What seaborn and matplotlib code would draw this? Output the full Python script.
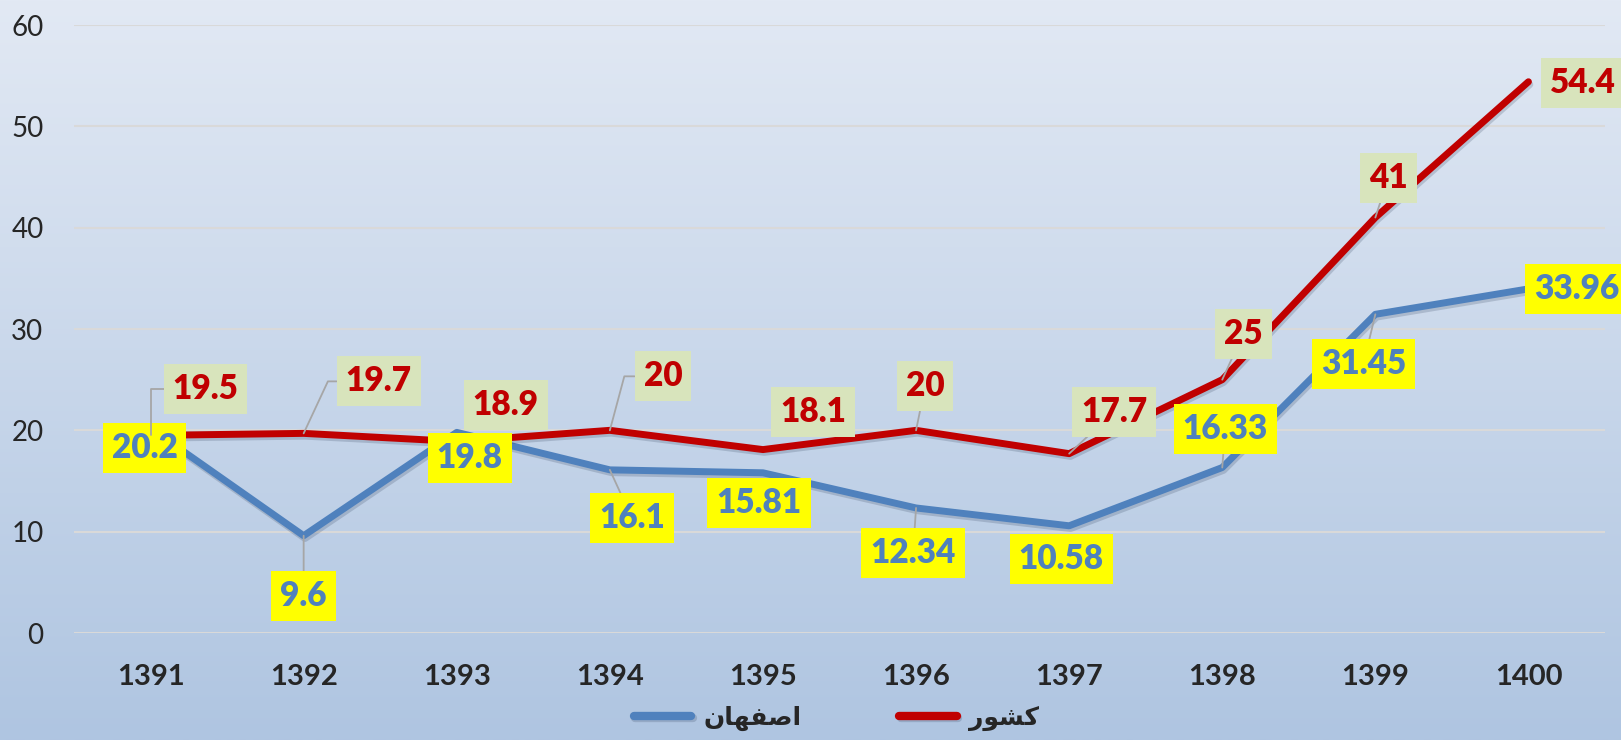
import numpy as np
import pandas as pd
import seaborn as sns
from matplotlib import pyplot as plt
from matplotlib import patheffects as pe

years = [1391, 1392, 1393, 1394, 1395, 1396, 1397, 1398, 1399, 1400]
isfahan = [20.2, 9.6, 19.8, 16.1, 15.81, 12.34, 10.58, 16.33, 31.45, 33.96]
country = [19.5, 19.7, 18.9, 20, 18.1, 20, 17.7, 25, 41, 54.4]
isfahan_name = "اصفهان"
country_name = "کشور"
y_ticks = [0, 10, 20, 30, 40, 50, 60]

# label placement: (dx, dy) in pixels from the point, plus leader style (None = no leader)
STRAIGHT = "arc3"
isfahan_layout = [(-6, -20, None), (0, -60, STRAIGHT), (13, -26, None), (22, -48, STRAIGHT),
                  (-4, -30, None), (-3, -45, STRAIGHT), (-8, -33, None), (3, 39, STRAIGHT),
                  (-12, -50, STRAIGHT), (48, 0, None)]
country_layout = [(55, 46, "angle,angleA=0,angleB=90,rad=0"), (75, 52, "angle,angleA=0,angleB=65,rad=0"),
                  (49, 36, None), (53, 54, "angle,angleA=0,angleB=75,rad=0"), (50, 38, None),
                  (9, 44, STRAIGHT), (45, 42, STRAIGHT), (21, 46, STRAIGHT), (13, 40, STRAIGHT),
                  (54, -1, None)]

BLUE = "#4F81BD"
RED = "#C00000"


def shape_arabic(text):
    # matplotlib has no Arabic shaping: pick contextual forms and reverse for LTR drawing
    forms = {  # isolated, final, initial, medial
        "ا": ("\uFE8D", "\uFE8E", None, None),
        "ر": ("\uFEAD", "\uFEAE", None, None),
        "و": ("\uFEED", "\uFEEE", None, None),
        "ص": ("\uFEB9", "\uFEBA", "\uFEBB", "\uFEBC"),
        "ف": ("\uFED1", "\uFED2", "\uFED3", "\uFED4"),
        "ه": ("\uFEE9", "\uFEEA", "\uFEEB", "\uFEEC"),
        "ن": ("\uFEE5", "\uFEE6", "\uFEE7", "\uFEE8"),
        "ش": ("\uFEB5", "\uFEB6", "\uFEB7", "\uFEB8"),
        "ک": ("\uFB8E", "\uFB8F", "\uFB90", "\uFB91"),
    }
    out = []
    for i, ch in enumerate(text):
        iso, fin, ini, med = forms[ch]
        prev_joins = i > 0 and forms[text[i - 1]][2] is not None
        next_joins = i < len(text) - 1 and ini is not None
        if prev_joins and next_joins:
            out.append(med)
        elif prev_joins:
            out.append(fin)
        elif next_joins:
            out.append(ini)
        else:
            out.append(iso)
    return "".join(reversed(out))


sns.set_theme(style="white")
plt.rcParams["font.family"] = ["Lato", "DejaVu Sans"]

df = pd.DataFrame({
    "year": years * 2,
    "value": isfahan + country,
    "region": [isfahan_name] * len(years) + [country_name] * len(years),
})

fig = plt.figure(figsize=(16.21, 7.40), dpi=100)

# gradient background
bg = fig.add_axes([0, 0, 1, 1], zorder=-10)
top = np.array([226, 233, 244]) / 255
bottom = np.array([175, 197, 225]) / 255
t = np.linspace(0, 1, 256)[:, None, None]
bg.imshow(top * (1 - t) + bottom * t, aspect="auto", extent=[0, 1, 0, 1])
bg.axis("off")

ax = fig.add_axes([74 / 1621, 107 / 740, 1531 / 1621, 608 / 740])
ax.set_facecolor("none")

sns.lineplot(data=df, x="year", y="value", hue="region", hue_order=[isfahan_name, country_name],
             palette={isfahan_name: BLUE, country_name: RED}, linewidth=5, ax=ax)

for line in ax.lines:
    line.set_solid_capstyle("round")
    line.set_solid_joinstyle("round")
    line.set_path_effects([pe.SimpleLineShadow(offset=(1, -2), shadow_color="#2a3a55", alpha=0.2),
                           pe.Normal()])

ax.set_xlim(years[0] - 0.5, years[-1] + 0.5)
ax.set_ylim(0, 60)
ax.set_xticks(years)
ax.set_xticklabels([str(y) for y in years], fontsize=21, fontweight="bold")
ax.set_yticks(y_ticks)
ax.set_yticklabels([str(v) for v in y_ticks], fontsize=20)
ax.tick_params(axis="y", length=0, pad=22)
ax.tick_params(axis="x", length=0, pad=22)
ax.yaxis.grid(True, color="#D9D9D9", linewidth=1.5)
ax.xaxis.grid(False)
for s in ax.spines.values():
    s.set_visible(False)
ax.set_xlabel("")
ax.set_ylabel("")


def add_labels(values, layout, text_color, box_color):
    for year, v, (dx, dy, leader) in zip(years, values, layout):
        arrow = None
        if leader:
            arrow = dict(arrowstyle="-", color="#A6A6A6", lw=1.3, shrinkA=0, shrinkB=0,
                         connectionstyle=leader)
        ax.annotate(f"{v:g}", xy=(year, v), xytext=(dx, dy), textcoords="offset pixels",
                    ha="center", va="center", fontsize=24, fontweight="heavy", color=text_color,
                    bbox=dict(boxstyle="square,pad=0.27", fc=box_color, ec="none"),
                    arrowprops=arrow, annotation_clip=False, zorder=5)


add_labels(isfahan, isfahan_layout, BLUE, "#FFFF00")
add_labels(country, country_layout, RED, "#D8E4BC")

handles, labels = ax.get_legend_handles_labels()
ax.get_legend().remove()
for h in handles:
    h.set_linewidth(6)
    h.set_solid_capstyle("round")
fig.legend(handles, [shape_arabic(l) for l in labels], loc="center", bbox_to_anchor=(0.516, 22 / 740),
           ncol=2, frameon=False, handlelength=2.3, handletextpad=0.5, columnspacing=3.9,
           prop=dict(family="DejaVu Sans", weight="bold", size=18))

fig.savefig("out.png", dpi=100)
